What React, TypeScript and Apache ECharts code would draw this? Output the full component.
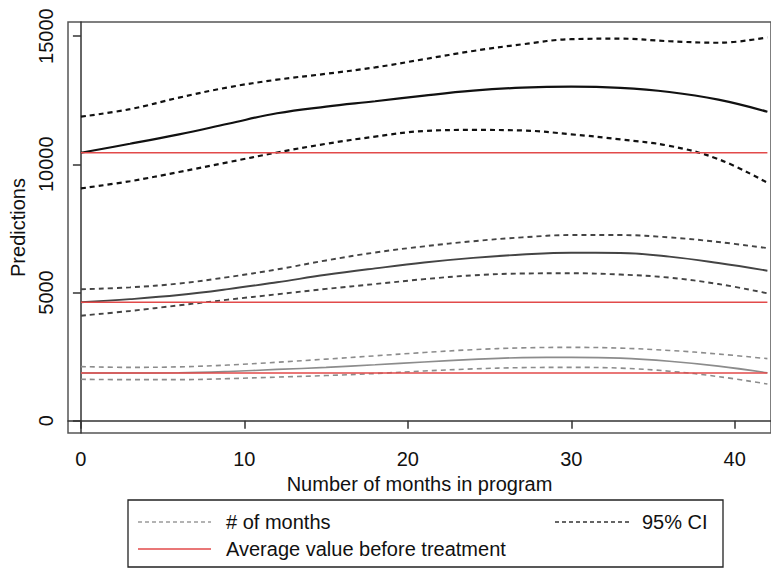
import React, { useEffect, useRef } from "react";
import * as echarts from "echarts";

// months on the x axis
const months = [0, 3, 6, 9, 12, 15, 18, 21, 24, 27, 30, 33, 36, 39, 42];

// top group (black)
const topMain = [10450, 10800, 11170, 11580, 11990, 12250, 12460, 12680, 12870, 12990, 13030, 12980, 12820, 12520, 12050];
const topUpper = [11860, 12150, 12600, 13000, 13300, 13530, 13780, 14100, 14420, 14680, 14880, 14900, 14800, 14740, 14950];
const topLower = [9060, 9340, 9700, 10080, 10460, 10800, 11080, 11300, 11340, 11320, 11170, 10970, 10720, 10200, 9280];

// middle group (dark grey)
const midMain = [4620, 4740, 4900, 5130, 5400, 5690, 5940, 6170, 6350, 6480, 6550, 6540, 6400, 6150, 5850];
const midUpper = [5125, 5200, 5350, 5600, 5900, 6250, 6560, 6800, 7000, 7150, 7240, 7240, 7150, 6970, 6730];
const midLower = [4095, 4280, 4500, 4720, 4930, 5140, 5330, 5520, 5670, 5740, 5750, 5700, 5580, 5330, 4970];

// bottom group (light grey)
const lowMain = [1860, 1860, 1870, 1920, 2000, 2080, 2180, 2290, 2390, 2460, 2470, 2440, 2320, 2130, 1870];
const lowUpper = [2110, 2080, 2100, 2170, 2280, 2400, 2530, 2660, 2770, 2840, 2860, 2830, 2740, 2600, 2420];
const lowLower = [1615, 1600, 1600, 1640, 1700, 1760, 1840, 1940, 2020, 2070, 2080, 2050, 1930, 1720, 1430];

// average value before treatment
const baselines = [10450, 4620, 1860];

const xTicks = [0, 10, 20, 30, 40];
const yTicks = [0, 5000, 10000, 15000];

const xTitle = "Number of months in program";
const yTitle = "Predictions";
const legendMonths = "# of months";
const legendCI = "95% CI";
const legendAvg = "Average value before treatment";

const FONT = '"Liberation Sans", Arial, sans-serif';
const RED = "#e24a4a";

function pairs(vals: number[]) {
  return months.map((m, i) => [m, vals[i]]);
}

function lineSeries(name: string, vals: number[], color: string, width: number, dashed: boolean) {
  return {
    name,
    type: "line",
    data: pairs(vals),
    smooth: 0.4,
    showSymbol: false,
    symbol: "none",
    silent: true,
    lineStyle: { color, width, type: dashed ? [5, 4] : "solid" },
  };
}

export default function App() {
  const ref = useRef<HTMLDivElement>(null);

  useEffect(() => {
    if (!ref.current) return;
    const chart = echarts.init(ref.current, null, { renderer: "svg" });
    const series: any[] = [
      lineSeries("top upper", topUpper, "#111", 2.2, true),
      lineSeries("top lower", topLower, "#111", 2.2, true),
      lineSeries("top", topMain, "#111", 2.2, false),
      lineSeries("mid upper", midUpper, "#444", 1.9, true),
      lineSeries("mid lower", midLower, "#444", 1.9, true),
      lineSeries("mid", midMain, "#444", 1.9, false),
      lineSeries("low upper", lowUpper, "#8c8c8c", 1.6, true),
      lineSeries("low lower", lowLower, "#8c8c8c", 1.6, true),
      lineSeries("low", lowMain, "#8c8c8c", 1.6, false),
    ];
    baselines.forEach((b, i) => {
      series.push({
        name: "baseline" + i,
        type: "line",
        data: [
          [months[0], b],
          [months[months.length - 1], b],
        ],
        showSymbol: false,
        symbol: "none",
        silent: true,
        lineStyle: { color: RED, width: 1.5 },
      });
    });

    const lx = 128, ly = 500, lw = 595, lh = 67;
    const r1 = 522, r2 = 549;

    chart.setOption({
      animation: false,
      backgroundColor: "#fff",
      textStyle: { fontFamily: FONT },
      grid: {
        left: 68,
        top: 22,
        right: -2,
        bottom: 136,
        show: true,
        borderColor: "#555",
        borderWidth: 1.5,
        containLabel: false,
      },
      xAxis: {
        type: "value",
        min: -0.79,
        max: 42.22,
        axisLine: { show: true, lineStyle: { color: "#333", width: 1.5 } },
        axisTick: { show: true, length: 8, customValues: xTicks, lineStyle: { color: "#333", width: 1.5 } },
        axisLabel: {
          customValues: xTicks,
          fontSize: 20,
          color: "#111",
          margin: 16,
          fontFamily: FONT,
          formatter: (v: number) => String(v),
        },
        splitLine: { show: false },
        name: xTitle,
        nameLocation: "middle",
        nameGap: 33,
        nameTextStyle: { fontSize: 20, color: "#111", fontFamily: FONT },
      },
      yAxis: {
        type: "value",
        min: -480,
        max: 15550,
        axisLine: { show: true, lineStyle: { color: "#333", width: 1.5 } },
        axisTick: { show: true, length: 8, customValues: yTicks, lineStyle: { color: "#333", width: 1.5 } },
        axisLabel: {
          customValues: yTicks,
          fontSize: 20,
          color: "#111",
          rotate: 90,
          margin: 12,
          fontFamily: FONT,
          formatter: (v: number) => String(v),
        },
        splitLine: { show: false },
        name: yTitle,
        nameLocation: "middle",
        nameGap: 37,
        nameTextStyle: { fontSize: 20, color: "#111", fontFamily: FONT },
      },
      series,
      graphic: [
        {
          type: "rect",
          shape: { x: lx, y: ly, width: lw, height: lh },
          style: { fill: "none", stroke: "#222", lineWidth: 1.3 },
          silent: true,
        },
        {
          type: "line",
          shape: { x1: 138, y1: r1, x2: 211, y2: r1 },
          style: { stroke: "#9a9a9a", lineWidth: 1.5, lineDash: [4, 3] },
        },
        {
          type: "text",
          x: 226,
          y: r1,
          style: { text: legendMonths, fontSize: 20, fontFamily: FONT, fill: "#111", verticalAlign: "middle", align: "left" },
        },
        {
          type: "line",
          shape: { x1: 555, y1: r1, x2: 631, y2: r1 },
          style: { stroke: "#333", lineWidth: 1.5, lineDash: [4, 3] },
        },
        {
          type: "text",
          x: 642,
          y: r1,
          style: { text: legendCI, fontSize: 20, fontFamily: FONT, fill: "#111", verticalAlign: "middle", align: "left" },
        },
        {
          type: "line",
          shape: { x1: 138, y1: r2, x2: 211, y2: r2 },
          style: { stroke: RED, lineWidth: 1.5 },
        },
        {
          type: "text",
          x: 226,
          y: r2,
          style: { text: legendAvg, fontSize: 20, fontFamily: FONT, fill: "#111", verticalAlign: "middle", align: "left" },
        },
      ],
    });
    return () => chart.dispose();
  }, []);

  return (
    <div
      ref={ref}
      style={{ position: "fixed", left: 0, top: 0, width: 771, height: 569, background: "#fff" }}
    />
  );
}
